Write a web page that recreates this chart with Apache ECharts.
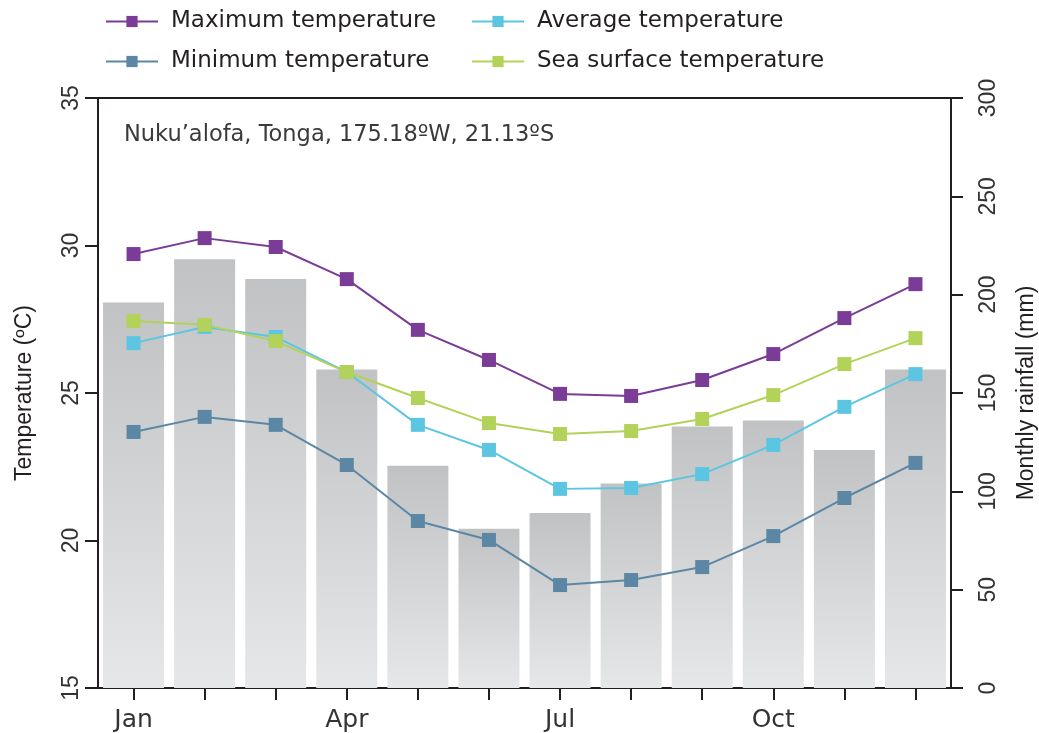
<!DOCTYPE html>
<html>
<head>
<meta charset="utf-8">
<script src="https://cdn.jsdelivr.net/npm/echarts@6/dist/echarts.min.js"></script>
<style>html,body{margin:0;padding:0;background:#fff}#c{width:1039px;height:733px}</style>
</head>
<body>
<div id="c"></div>
<script>
const months = ['Jan','Feb','Mar','Apr','May','Jun','Jul','Aug','Sep','Oct','Nov','Dec'];
const rainfall = [196, 218, 208, 162, 113, 81, 89, 104, 133, 136, 121, 162];
const maxTemp = [29.71, 30.25, 29.95, 28.86, 27.14, 26.12, 24.97, 24.90, 25.44, 26.32, 27.54, 28.69];
const avgTemp = [26.69, 27.24, 26.90, 25.71, 23.92, 23.07, 21.75, 21.78, 22.25, 23.24, 24.53, 25.64];
const minTemp = [23.68, 24.19, 23.92, 22.56, 20.66, 20.02, 18.49, 18.66, 19.10, 20.15, 21.44, 22.63];
const seaTemp = [27.44, 27.31, 26.76, 25.71, 24.83, 23.98, 23.61, 23.71, 24.12, 24.93, 25.98, 26.86];
const tempTicks = [15, 20, 25, 30, 35];
const rainTicks = [0, 50, 100, 150, 200, 250, 300];
const subtitle = 'Nuku\u2019alofa, Tonga, 175.18\u00baW, 21.13\u00baS';

const HFONT = 'DejaVu Sans, sans-serif';
const VFONT = 'Liberation Sans, Arial, sans-serif';
const AX = '#231f20';
const colors = {max:'#7b3c97', avg:'#5cc6e2', min:'#5b87a4', sea:'#b3d25a'};

const chart = echarts.init(document.getElementById('c'), null, {renderer:'canvas'});

function lineSeries(name, data, color){
  return {
    name, type:'line', data, yAxisIndex:0, xAxisIndex:0,
    symbol:'rect', symbolSize:14, smooth:false,
    lineStyle:{color, width:2}, itemStyle:{color},
    z:3
  };
}
function legendAt(name, left, top){
  return {
    data:[name], left, top, orient:'horizontal',
    itemWidth:52, itemHeight:14, itemGap:0,
    textStyle:{fontFamily:HFONT, fontSize:23, color:'#231f20', padding:[0,0,0,8]},
    selectedMode:false
  };
}

chart.setOption({
  animation:false,
  backgroundColor:'#fff',
  title:{
    text:subtitle, left:119, top:119,
    textStyle:{fontFamily:HFONT, fontSize:22.5, fontWeight:'normal', color:'#3a3a3a'}
  },
  legend:[
    legendAt('Maximum temperature', 100, 5),
    legendAt('Average temperature', 466, 5),
    legendAt('Minimum temperature', 100, 45),
    legendAt('Sea surface temperature', 466, 45)
  ],
  grid:{left:98, right:88, top:98, bottom:45, containLabel:false, outerBoundsMode:'none'},
  xAxis:[{
    type:'category', data:months, position:'bottom',
    axisLine:{show:true, lineStyle:{color:AX, width:2}},
    axisTick:{show:true, alignWithLabel:true, interval:0, length:12, lineStyle:{color:AX, width:2}},
    axisLabel:{interval:2, fontFamily:HFONT, fontSize:25, color:'#333', margin:20},
    splitLine:{show:false}
  },{
    type:'category', data:months, position:'top',
    axisLine:{show:true, lineStyle:{color:AX, width:2}},
    axisTick:{show:false}, axisLabel:{show:false}, splitLine:{show:false}
  }],
  yAxis:[{
    type:'value', min:15, max:35, interval:5, position:'left',
    name:'Temperature (\u00baC)', nameLocation:'middle', nameRotate:90, nameGap:62, nameMoveOverlap:false,
    nameTextStyle:{fontFamily:VFONT, fontSize:23, color:'#231f20'},
    axisLine:{show:true, lineStyle:{color:AX, width:2}},
    axisTick:{show:true, length:13, lineStyle:{color:AX, width:2}},
    axisLabel:{rotate:90, fontFamily:VFONT, fontSize:23, color:'#333', margin:15,
      formatter:v=>tempTicks.includes(v)?String(v):''},
    splitLine:{show:false}
  },{
    type:'value', min:0, max:300, interval:50, position:'right',
    name:'Monthly rainfall (mm)', nameLocation:'middle', nameRotate:90, nameGap:64, nameMoveOverlap:false,
    nameTextStyle:{fontFamily:VFONT, fontSize:23, color:'#231f20'},
    axisLine:{show:true, lineStyle:{color:AX, width:2}},
    axisTick:{show:true, length:12, lineStyle:{color:AX, width:2}},
    axisLabel:{rotate:90, fontFamily:VFONT, fontSize:23, color:'#333', margin:26,
      formatter:v=>rainTicks.includes(v)?String(v):''},
    splitLine:{show:false}
  }],
  series:[
    {
      name:'Monthly rainfall', type:'bar', data:rainfall, yAxisIndex:1, xAxisIndex:0,
      barWidth:61,
      itemStyle:{color:new echarts.graphic.LinearGradient(0,0,0,1,[
        {offset:0,color:'#c1c2c4'},{offset:1,color:'#e6e7e8'}])},
      z:1
    },
    lineSeries('Maximum temperature', maxTemp, colors.max),
    lineSeries('Average temperature', avgTemp, colors.avg),
    lineSeries('Minimum temperature', minTemp, colors.min),
    lineSeries('Sea surface temperature', seaTemp, colors.sea)
  ]
});
</script>
</body>
</html>
